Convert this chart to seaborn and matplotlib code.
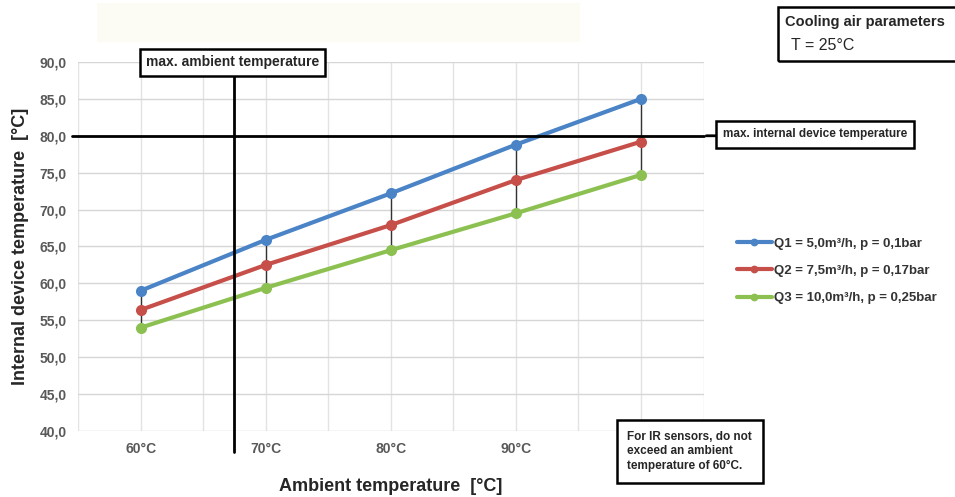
import matplotlib
matplotlib.use("Agg")
import matplotlib.pyplot as plt
import matplotlib.patches as mpatches
import seaborn as sns
import pandas as pd

# chart data
categories = ["60°C", "70°C", "80°C", "90°C", "100°C"]
q1 = [59.0, 65.9, 72.2, 78.8, 85.0]
q2 = [56.4, 62.5, 67.9, 74.0, 79.2]
q3 = [54.0, 59.4, 64.5, 69.5, 74.7]
series_names = ["Q1 = 5,0m³/h, p = 0,1bar",
                "Q2 = 7,5m³/h, p = 0,17bar",
                "Q3 = 10,0m³/h, p = 0,25bar"]
colors = ["#4a84c6", "#c64f4a", "#8cc152"]
max_internal = 80.0
max_ambient = 67.5
y_ticks = [40, 45, 50, 55, 60, 65, 70, 75, 80, 85, 90]

df = pd.DataFrame({
    "ambient": categories * 3,
    "internal": q1 + q2 + q3,
    "series": [s for s in series_names for _ in categories],
})

sns.set_style("white")
plt.rcParams["font.family"] = ["Liberation Sans", "DejaVu Sans"]

fig = plt.figure(figsize=(9.55, 4.97), dpi=100)
ax = fig.add_axes([0.0817, 0.1328, 0.655, 0.7425])

# faint band at the top of the image
fig.patches.append(mpatches.Rectangle((0.102, 0.915), 0.505, 0.078, transform=fig.transFigure,
                                      facecolor="#fcfbf4", edgecolor="none"))

# high-low lines between the series
ax.vlines(range(len(categories)), q3, q1, color="#333333", lw=1, zorder=2)

sns.lineplot(data=df, x="ambient", y="internal", hue="series", palette=colors,
             marker="o", markersize=8, markeredgewidth=0, linewidth=3, ax=ax, zorder=3)

ax.set_xlim(-0.5, len(categories) - 0.5)
ax.set_ylim(40, 90)
ax.set_yticks(y_ticks)
ax.set_yticklabels([f"{v:.1f}".replace(".", ",") for v in y_ticks])
for x in [i * 0.5 - 0.5 for i in range(2 * len(categories) + 1)]:
    ax.axvline(x, color="#e3e3e3", lw=1, zorder=0)
for y in y_ticks:
    ax.axhline(y, color="#d6d6d6", lw=1, zorder=0)
for s in ax.spines.values():
    s.set_visible(False)
ax.tick_params(length=0, pad=8)
for lab in ax.get_xticklabels() + ax.get_yticklabels():
    lab.set_fontweight("bold")
    lab.set_color("#595959")
    lab.set_fontsize(10)
# last category label sits under the note box in the reference
ax.get_xticklabels()[-1].set_visible(False)

ax.set_xlabel("Ambient temperature  [°C]", fontsize=13, fontweight="bold", labelpad=16)
ax.set_ylabel("Internal device temperature  [°C]", fontsize=13, fontweight="bold", labelpad=8)

# limit lines
xpos = (max_ambient - 60) / 10
ax.axhline(max_internal, xmin=-0.01, xmax=1.0, color="black", lw=2, zorder=4, clip_on=False)
ax.annotate("", xy=(4.5, max_internal), xytext=(4.75, max_internal), textcoords="data",
            arrowprops=dict(arrowstyle="-", color="black", lw=2), annotation_clip=False)
ax.plot([xpos, xpos], [37.1, 88.0], color="black", lw=2, zorder=4, clip_on=False)

box = dict(boxstyle="square,pad=0.45", facecolor="white", edgecolor="black", lw=1.8)
fig.text(0.2435, 0.8745, "max. ambient temperature", ha="center", va="center",
         fontsize=10, fontweight="bold", bbox=box)
fig.text(0.8535, 0.7295, "max. internal device temperature", ha="center", va="center",
         fontsize=8.5, fontweight="bold", bbox=dict(box, boxstyle="square,pad=0.6"))
fig.text(0.657, 0.092, "For IR sensors, do not\nexceed an ambient\ntemperature of 60°C.",
         ha="left", va="center", fontsize=8.5, fontweight="bold", linespacing=1.3,
         bbox=dict(box, boxstyle="square,pad=0.9"), zorder=10)
fig.text(0.822, 0.955, "Cooling air parameters", ha="left", va="center",
         fontsize=10.5, fontweight="bold")
fig.text(0.828, 0.909, "T = 25°C", ha="left", va="center", fontsize=11.5)
fig.patches.append(mpatches.Rectangle((0.8145, 0.878), 0.2, 0.108, transform=fig.transFigure,
                                      facecolor="none", edgecolor="black", lw=1.8))

leg = ax.legend(loc="center left", bbox_to_anchor=(1.035, 0.434), frameon=False,
                handlelength=2.6, labelspacing=1.15, handletextpad=0.2, markerscale=0.7,
                prop={"weight": "bold", "size": 9.5})
for t in leg.get_texts():
    t.set_color("#333333")

fig.savefig("out.png", dpi=100)
